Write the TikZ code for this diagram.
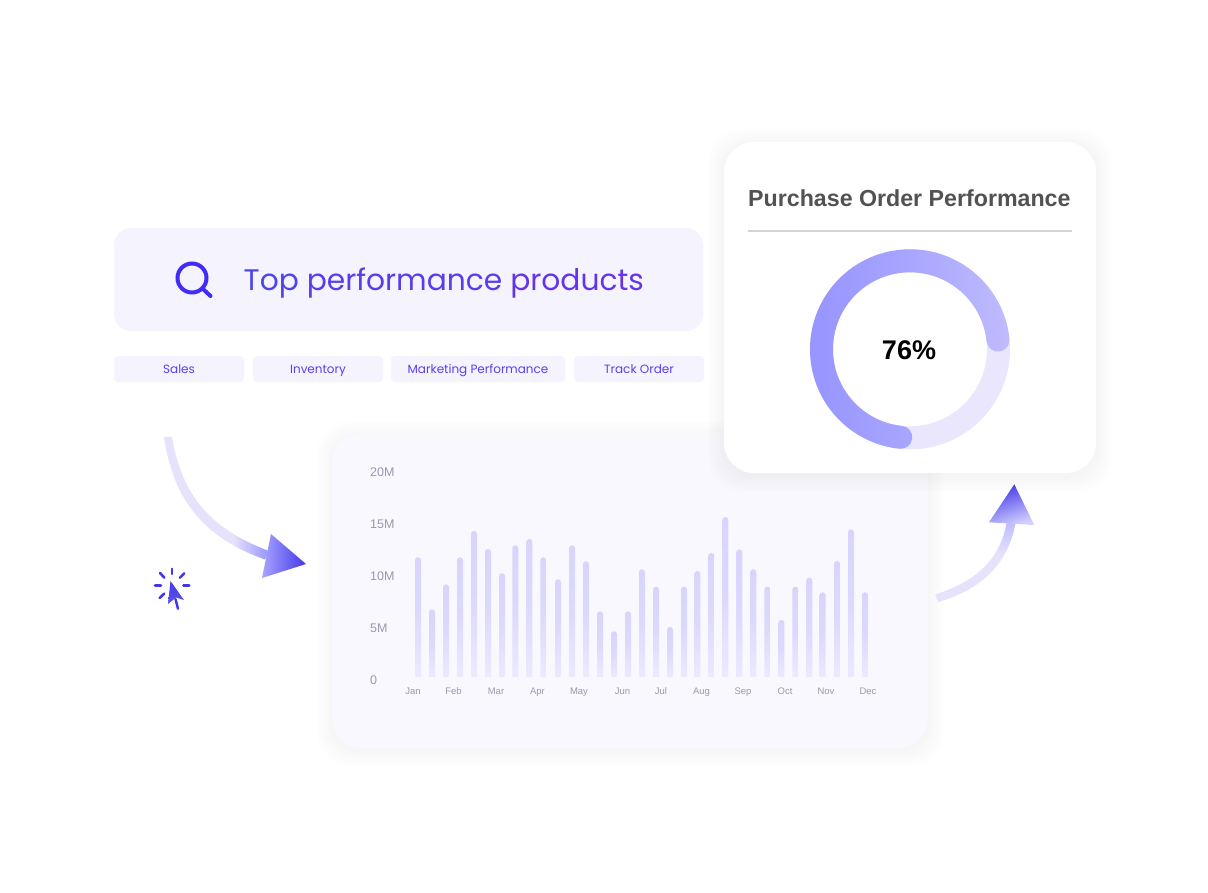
\documentclass[tikz,border=0pt]{standalone}
\usepackage{fontspec}
\setmainfont{Liberation Sans}
\newfontfamily\pop{Poppins}
\definecolor{panel}{HTML}{F5F3FE}
\definecolor{tabtext}{HTML}{5B3FEF}
\definecolor{axistext}{HTML}{9A98AC}
\definecolor{track}{HTML}{E9E6FD}
\definecolor{pale}{HTML}{E6E2FC}
\definecolor{deep}{HTML}{4338E8}
\definecolor{cardfill}{HTML}{FAF8FF}
\definecolor{barT}{HTML}{D8D4FC}
\definecolor{barM}{HTML}{DCD9FD}
\definecolor{barB}{HTML}{ECEAFF}
\definecolor{ringL}{HTML}{9694FF}
\definecolor{ringM}{HTML}{A8A5FF}
\definecolor{ringR}{HTML}{BFBCFF}
\pgfdeclarehorizontalshading{tailone}{100bp}{color(0bp)=(pale);color(25bp)=(pale);color(58bp)=(pale);color(75bp)=(ringL);color(100bp)=(ringL)}
\pgfdeclareverticalshading{tailtwo}{100bp}{color(0bp)=(pale);color(25bp)=(pale);color(55bp)=(pale);color(75bp)=(ringR);color(100bp)=(ringR)}
\tikzset{
  panelbox/.style={fill=panel,rounded corners=#1,draw=none},
  tabbox/.style={panelbox=4pt,minimum height=26pt,inner sep=0pt,text height=11pt,text depth=2pt,text=tabtext,font=\pop\fontsize{12}{14}\selectfont},
  ylab/.style={anchor=west,text=axistext,inner sep=0pt,text height=9pt,text depth=0pt,font=\fontsize{12.5}{14}\selectfont},
  mlab/.style={anchor=center,text=axistext,inner sep=0pt,text height=7pt,text depth=0pt,font=\fontsize{9.5}{11}\selectfont},
  ray/.style={draw=deep,line width=2.6pt,line cap=round},
}
\begin{document}
\begin{tikzpicture}[x=1pt,y=-1pt]
\useasboundingbox (0,0) rectangle (1208,892);
\fill[white] (0,0) rectangle (1208,892);

% search bar
\fill[panelbox=17pt] (114,228) rectangle (703,331);
\draw[color=tabtext!70!blue,line width=4pt] (192,278) circle[radius=14.5pt];
\draw[color=tabtext!70!blue,line width=4pt,line cap=round] (202.5,288.5) -- (210.5,296);
\node[inner sep=0pt,anchor=base west,font=\pop\fontsize{29.7}{36}\selectfont] (query) at (243.5,290.5)
  {\textcolor[HTML]{4F44EA}{Top} \textcolor[HTML]{5A3DEA}{performance} \textcolor[HTML]{6534E8}{products}};

% tabs
\node[tabbox,minimum width=130pt] (tab1) at (179,369) {Sales};
\node[tabbox,minimum width=130pt] (tab2) at (318,369) {Inventory};
\node[tabbox,minimum width=174pt] (tab3) at (478,369) {Marketing Performance};
\node[tabbox,minimum width=130pt] (tab4) at (639,369) {Track Order};

% chart card
\foreach \i in {1,...,9}
  \fill[color=black,opacity=0.003,rounded corners=32pt]
    (332-1.7*\i,433-1.7*\i+3) rectangle (928+1.7*\i,748+1.7*\i+3);
\fill[cardfill,rounded corners=30pt] (332,433) rectangle (928,748);

% bars
\foreach \x/\t in {418/557.3,432/609.3,446/584.3,460/557.3,474/531,488/549,502/573.3,515.3/545.3,
  529.3/539,543.3/557.3,558/579.3,572/545.3,586/561.3,600/611.3,614/631.3,628/611.3,642/569.3,
  656/586.7,670/627,684/586.7,697.3/571,711.3/553,725.3/517,739.3/549.3,753.3/569.3,767.3/586.7,
  781.3/620,795.3/586.7,809.3/577.7,822.7/592.3,837/561,851/529.3,865/592.3}
  \shade[top color=barT,bottom color=barB,middle color=barM]
    (\x-3,677) {[rounded corners=2.8pt] -- (\x-3,\t) -- (\x+3,\t)} -- (\x+3,677) -- cycle;

% axis labels
\node[ylab] (y20) at (370,472) {20M};
\node[ylab] (y15) at (370,524) {15M};
\node[ylab] (y10) at (370,576) {10M};
\node[ylab] (y5) at (370,628) {5M};
\node[ylab] (y0) at (370,680) {0};
\foreach \m/\x in {Jan/413,Feb/453.5,Mar/496,Apr/537.5,May/579,Jun/622.5,Jul/661,Aug/701.5,Sep/743,Oct/785,Nov/826,Dec/868}
  \node[mlab] (m\m) at (\x,691) {\m};

% donut card
\foreach \i in {1,...,10}
  \fill[color=black,opacity=0.004,rounded corners=32pt]
    (724-1.6*\i,142-1.6*\i+3) rectangle (1096+1.6*\i,473+1.6*\i+3);
\fill[white,rounded corners=30pt] (724,142) rectangle (1096,473);
\node[inner sep=0pt,anchor=base west,text=black!68,font=\bfseries\fontsize{23.2}{28}\selectfont] (title) at (748,206) {Purchase Order Performance};
\draw[color=black!17,line width=1.8pt] (748,231) -- (1072,231);
\fill[track,even odd rule] (910,349.3) circle[radius=100pt] (910,349.3) circle[radius=77pt];
\begin{scope}[shift={(910pt,-349.3pt)},x=1pt,y=1pt]
  \shade[left color=ringL,right color=ringR,middle color=ringM]
    (264:77) arc[start angle=264,end angle=6,radius=77pt]
    arc[start angle=186,end angle=366,radius=11.5pt]
    arc[start angle=6,end angle=264,radius=100pt]
    arc[start angle=264,end angle=444,radius=11.5pt] -- cycle;
\end{scope}
\node[inner sep=0pt,text=black,font=\bfseries\fontsize{27}{32}\selectfont] (pct) at (909,350) {76\%};

% arrow into chart
\shade[shading=tailone]
  (164,437) .. controls (172,490) and (195,535) .. (265,559.5)
  -- (269,551) .. controls (205,527) and (181,490) .. (172,437) -- cycle;
\shade[left color=ringM,right color=deep]
  (271,534) -- (306,564) -- (262,578) -- cycle;

% arrow out of chart
\shade[shading=tailtwo]
  (935.2,594.5) .. controls (975,582) and (1000,560) .. (1006.5,523)
  -- (1015.5,523) .. controls (1008,565) and (980,590) .. (938,602) -- cycle;
\shade[top color=deep,bottom color=ringR!70!white,shading angle=20]
  (1014.3,484.3) -- (1034.3,525) -- (989,522.3) -- cycle;

% pointer
\draw[ray] (172,568.8) -- (172,574);
\draw[ray] (160,573) -- (164.3,577.6);
\draw[ray] (155,585.7) -- (161,585.7);
\draw[ray] (159.6,598) -- (164.3,593.6);
\draw[ray] (184.2,573.4) -- (179.8,577.8);
\draw[ray] (183.4,585.7) -- (189.2,585.7);
\draw[ray,line width=2.4pt] (175.5,599) -- (178,608.8);
\shade[top color=deep,bottom color=deep!85!white]
  (170.5,581) -- (184,600) -- (176,597.5) -- (168,604) -- cycle;
\end{tikzpicture}
\end{document}
